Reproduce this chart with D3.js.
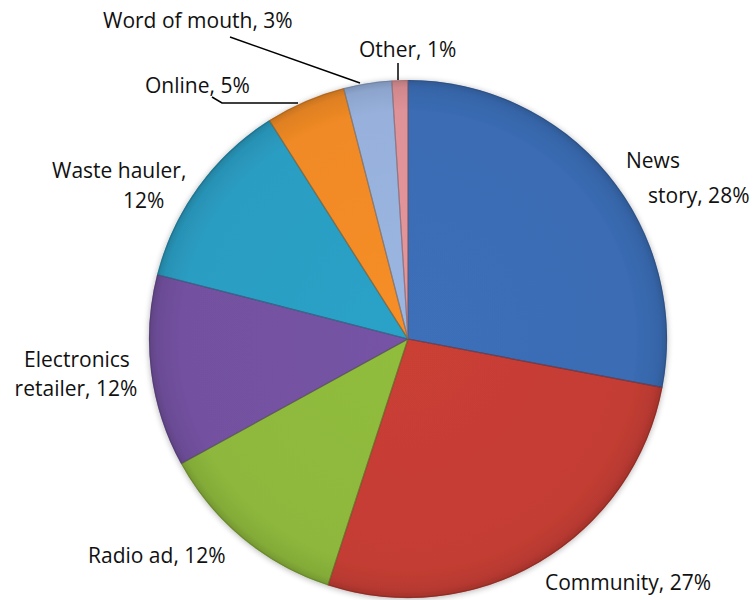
<!DOCTYPE html>
<html>
<head>
<meta charset="utf-8">
<script src="https://cdn.jsdelivr.net/npm/d3@7"></script>
<style>
  html, body { margin: 0; padding: 0; background: #ffffff; }
  svg { display: block; }
  text { font-family: "Open Sans", "Noto Sans", sans-serif; fill: #111; }
</style>
</head>
<body>
<svg id="chart" width="753" height="600"></svg>
<script>
// Where people heard about the program (share of responses, %)
const categories = ["News story", "Community", "Radio ad", "Electronics retailer",
                    "Waste hauler", "Online", "Word of mouth", "Other"];
const shares = [28, 27, 12, 12, 12, 5, 3, 1];
const labelLines = [
  ["News", "story, 28%"],
  ["Community, 27%"],
  ["Radio ad, 12%"],
  ["Electronics", "retailer, 12%"],
  ["Waste hauler,", "12%"],
  ["Online, 5%"],
  ["Word of mouth, 3%"],
  ["Other, 1%"]
];

const palette = ["#3a6cb4", "#c43d34", "#8db83c", "#7351a0",
                 "#2b9dc2", "#f08a25", "#97b1dc", "#df9297"];

// label placement (x and baseline y per line) and leader lines
const labelLayout = [
  { x: [626, 648], y: [168, 203], anchor: "start" },
  { x: [545], y: [590], anchor: "start" },
  { x: [88], y: [563], anchor: "start" },
  { x: [77, 76], y: [367, 396], anchor: "middle" },
  { x: [52, 123], y: [178, 208], anchor: "start" },
  { x: [145], y: [93], anchor: "start" },
  { x: [103], y: [28], anchor: "start" },
  { x: [359], y: [57], anchor: "start" }
];
const leaders = [
  null, null, null, null, null,
  [[212, 97], [222, 103], [298, 103]],
  [[230, 37], [360, 83]],
  [[398, 63], [398, 80]]
];

const svg = d3.select("#chart");
const cx = 408, cy = 339, r = 259;

const defs = svg.append("defs");
const shadow = defs.append("filter").attr("id", "soft")
  .attr("x", "-10%").attr("y", "-10%").attr("width", "120%").attr("height", "120%");
shadow.append("feGaussianBlur").attr("in", "SourceAlpha").attr("stdDeviation", 3).attr("result", "b");
shadow.append("feOffset").attr("dx", 0).attr("dy", 1).attr("result", "o");
shadow.append("feComponentTransfer").append("feFuncA").attr("type", "linear").attr("slope", 0.3);
const merge = shadow.append("feMerge");
merge.append("feMergeNode");
merge.append("feMergeNode").attr("in", "SourceGraphic");

// per-slice radial shading in the pie's local space: rim slightly darker
palette.forEach((c, i) => {
  const grad = defs.append("radialGradient").attr("id", "g" + i)
    .attr("gradientUnits", "userSpaceOnUse")
    .attr("cx", 0).attr("cy", 0).attr("r", r);
  const base = d3.color(c);
  grad.append("stop").attr("offset", "0%").attr("stop-color", base.brighter(0.08));
  grad.append("stop").attr("offset", "88%").attr("stop-color", base);
  grad.append("stop").attr("offset", "97%").attr("stop-color", base.darker(0.2));
  grad.append("stop").attr("offset", "100%").attr("stop-color", base.darker(0.55));
});

const pie = d3.pie().sort(null).value(d => d)
  .startAngle(0).endAngle(2 * Math.PI);
const arcs = pie(shares);
const arc = d3.arc().innerRadius(0).outerRadius(r);

const pieG = svg.append("g").attr("transform", `translate(${cx},${cy})`);
pieG.append("g").attr("filter", "url(#soft)")
  .selectAll("path").data(arcs).join("path")
  .attr("d", arc)
  .attr("fill", (d, i) => `url(#g${i})`);

// thin darker seams between slices
pieG.append("g")
  .selectAll("path").data(arcs).join("path")
  .attr("d", d3.arc().innerRadius(0).outerRadius(r - 0.5))
  .attr("fill", "none")
  .attr("stroke", (d, i) => d3.color(palette[i]).darker(1.2))
  .attr("stroke-opacity", 0.5)
  .attr("stroke-width", 1.2)
  .attr("stroke-linejoin", "round");

// labels
const labels = svg.append("g");
labelLines.forEach((lines, i) => {
  const L = labelLayout[i];
  lines.forEach((t, j) => {
    labels.append("text")
      .attr("x", L.x[j]).attr("y", L.y[j])
      .attr("text-anchor", L.anchor)
      .attr("font-size", 21)
      .text(t);
  });
});

// leader lines
svg.append("g").selectAll("path")
  .data(leaders.filter(d => d))
  .join("path")
  .attr("d", d3.line())
  .attr("fill", "none")
  .attr("stroke", "#000")
  .attr("stroke-width", 1.5);
</script>
</body>
</html>
